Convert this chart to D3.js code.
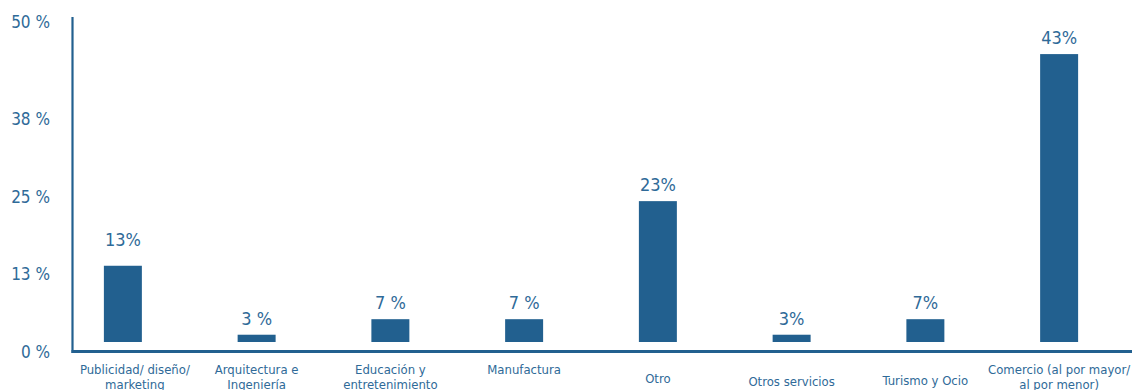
<!DOCTYPE html>
<html>
<head>
<meta charset="utf-8">
<script src="https://cdn.jsdelivr.net/npm/d3@7"></script>
<style>
  body { margin: 0; background: #fff; }
  svg { display: block; }
  text { font-family: "Liberation Sans Narrow", "DejaVu Sans Condensed", "Open Sans", sans-serif; }
</style>
</head>
<body>
<svg id="chart" width="1132" height="390"></svg>
<script>
// categorias del eje x (cada elemento es una linea del rotulo)
const categories = [
  ["Publicidad/ diseño/", "marketing"],
  ["Arquitectura e", "Ingeniería"],
  ["Educación y", "entretenimiento"],
  ["Manufactura"],
  ["Otro"],
  ["Otros servicios"],
  ["Turismo y Ocio"],
  ["Comercio (al por mayor/", "al por menor)"]
]
// altura de las barras (%)
const barValues = [13.8, 2.7, 5.2, 5.2, 24.2, 2.7, 5.2, 45.8]
// rotulos de las barras tal como aparecen
const valueLabels = ["13%", "3 %", "7 %", "7 %", "23%", "3%", "7%", "43%"]
// marcas del eje y
const tickValues = [0, 12.5, 25, 37.5, 50]
const tickLabels = ["0 %", "13 %", "25 %", "38 %", "50 %"]

const blue = "#22608f"
const textBlue = "#2f6a98"
const svg = d3.select("#chart")

const keys = categories.map(c => c.join(" "))

const x = d3.scaleBand()
  .domain(keys)
  .range([56, 1126])
  .paddingInner(0.716)
  .paddingOuter(0.358)

// la escala del original no es del todo lineal en el tramo superior
const y = d3.scaleLinear()
  .domain([0, 37.5, 50])
  .range([351.5, 118.5, 21.5])

// eje y (solo textos)
const yAxis = svg.append("g")
  .attr("transform", "translate(50,0)")
  .call(d3.axisLeft(y).tickValues(tickValues).tickSize(0).tickPadding(0)
    .tickFormat((d, i) => tickLabels[i]))
yAxis.select(".domain").remove()
yAxis.selectAll("text")
  .attr("fill", textBlue)
  .attr("font-size", 17)
  .attr("dy", "0.36em")

// lineas de los ejes
svg.append("line")
  .attr("x1", 72.5).attr("x2", 72.5)
  .attr("y1", 17).attr("y2", y(0) + 1.5)
  .attr("stroke", blue).attr("stroke-width", 2.2)
svg.append("line")
  .attr("x1", 71.5).attr("x2", 1132)
  .attr("y1", y(0)).attr("y2", y(0))
  .attr("stroke", blue).attr("stroke-width", 3)

// barras (separadas del eje unos pixeles como en el original)
const gap = 9.5
svg.append("g").selectAll("rect")
  .data(barValues)
  .join("rect")
  .attr("x", (d, i) => x(keys[i]))
  .attr("width", x.bandwidth())
  .attr("y", d => y(d))
  .attr("height", d => y(0) - gap - y(d))
  .attr("fill", blue)

// rotulos de valores (el primero queda algo mas alto en el original)
svg.append("g").selectAll("text")
  .data(barValues)
  .join("text")
  .attr("x", (d, i) => x(keys[i]) + x.bandwidth() / 2)
  .attr("y", (d, i) => y(d) - (i === 0 ? 20 : 10))
  .attr("text-anchor", "middle")
  .attr("fill", textBlue)
  .attr("font-size", 18)
  .text((d, i) => valueLabels[i])

// rotulos del eje x
const labelShift = { "Publicidad/ diseño/ marketing": [12, 0], "Otro": [0, 9], "Otros servicios": [0, 12], "Turismo y Ocio": [0, 11] }
const xLabels = svg.append("g").selectAll("text")
  .data(categories)
  .join("text")
  .attr("text-anchor", "middle")
  .attr("fill", textBlue)
  .attr("font-size", 13)
  .attr("x", (d, i) => x(keys[i]) + x.bandwidth() / 2 + ((labelShift[keys[i]] || [0, 0])[0]))
  .attr("y", (d, i) => 374 + ((labelShift[keys[i]] || [0, 0])[1]))
xLabels.selectAll("tspan")
  .data(d => d)
  .join("tspan")
  .attr("x", function () { return this.parentNode.getAttribute("x") })
  .attr("dy", (d, i) => i === 0 ? 0 : 15)
  .text(d => d)
</script>
</body>
</html>
